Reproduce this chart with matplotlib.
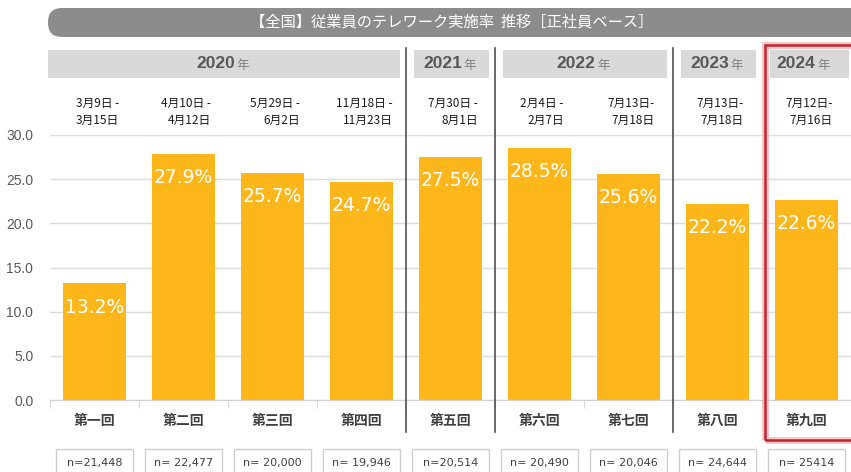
import matplotlib
matplotlib.use("Agg")
import matplotlib.pyplot as plt
import matplotlib.transforms as mtransforms
from matplotlib.patches import Rectangle, FancyBboxPatch

plt.rcParams['font.family'] = ['Noto Sans CJK JP', 'DejaVu Sans']

# data
rounds = ['第一回', '第二回', '第三回', '第四回', '第五回', '第六回', '第七回', '第八回', '第九回']
rates = [13.2, 27.9, 25.7, 24.7, 27.5, 28.5, 25.6, 22.2, 22.6]
periods = ['3月9日 -\n3月15日', '4月10日 -\n4月12日', '5月29日 -\n6月2日', '11月18日 -\n11月23日',
           '7月30日 -\n8月1日', '2月4日 -\n2月7日', '7月13日-\n7月18日', '7月13日-\n7月18日',
           '7月12日-\n7月16日']
samples = ['n=21,448', 'n= 22,477', 'n= 20,000', 'n= 19,946', 'n=20,514',
           'n= 20,490', 'n= 20,046', 'n= 24,644', 'n= 25414']
years = ['2020', '2021', '2022', '2023', '2024']
year_groups = [(0, 3), (4, 4), (5, 6), (7, 7), (8, 8)]
title = '【全国】従業員のテレワーク実施率  推移［正社員ベース］'

W, H = 851, 472
BAR = '#FDB71B'
TXT = '#404040'
XMIN, XMAX = -0.5, 8.375


def fy(py):
    """pixel row from top -> figure fraction"""
    return 1 - py / H


fig = plt.figure(figsize=(W / 100, H / 100), dpi=100)
ax = fig.add_axes([50 / W, fy(400), (W - 50) / W, 265 / H])

x = list(range(len(rounds)))
bars = ax.bar(x, rates, width=0.71, color=BAR, zorder=2)
for b, v in zip(bars, rates):
    ax.annotate(f'{v:.1f}%', (b.get_x() + b.get_width() / 2, v), xytext=(0, -17),
                textcoords='offset points', ha='center', va='center',
                color='white', fontsize=13.5, family=['DejaVu Sans'], zorder=3)

ax.set_xlim(XMIN, XMAX)
ax.set_ylim(0, 30)
ax.set_yticks(range(0, 31, 5))
ax.set_yticklabels([f'{t:.1f}' for t in range(0, 31, 5)], color='#595959', fontsize=10,
                   family=['Liberation Sans'])
ax.tick_params(axis='y', length=0, pad=12)
ax.grid(axis='y', color='#dcdcdc', lw=1, zorder=0)
ax.set_xticks(x)
ax.set_xticklabels(rounds, fontsize=10, fontweight='bold', color=TXT)
ax.tick_params(axis='x', length=0, pad=10)
ax.set_xticks([i - 0.5 for i in range(len(rounds) + 1)], minor=True)
ax.tick_params(axis='x', which='minor', length=6, color='#d0d0d0')
for s in ['top', 'right', 'left']:
    ax.spines[s].set_visible(False)
ax.spines['bottom'].set_color('#d0d0d0')

tr = mtransforms.blended_transform_factory(ax.transData, fig.transFigure)

# separators between years
seps = [g[1] + 0.5 for g in year_groups[:-1]]
for sx in seps[:-1]:
    ax.plot([sx, sx], [fy(48), fy(432)], transform=tr, color='#505050', lw=1.2,
            clip_on=False, zorder=4)

# year header boxes
bounds = [None] + seps + [None]
for i, ((a, b), yr) in enumerate(zip(year_groups, years)):
    left = -0.52 if bounds[i] is None else bounds[i] + 0.09
    right = XMAX + 0.1 if bounds[i + 1] is None else bounds[i + 1] - 0.07
    fig.patches.append(Rectangle((left, fy(78)), right - left, 28 / H, transform=tr,
                                 facecolor='#d9d9d9', edgecolor='none'))
    cx = (left + min(right, XMAX)) / 2
    fig.text(cx + 0.12, fy(64), yr, transform=tr, ha='right', va='center', fontsize=12.5,
             fontweight='bold', color='#595959', family=['Liberation Sans'])
    fig.text(cx + 0.14, fy(65), '年', transform=tr, ha='left', va='center', fontsize=9,
             color='#7f7f7f')

# survey periods
for xi, p in zip(x, periods):
    fig.text(xi + 0.03, fy(112), p, transform=tr, ha='center', va='center', fontsize=8.5,
             multialignment='right', color='#1a1a1a', linespacing=1.35)

# sample boxes
for xi, n in zip(x, samples):
    fig.patches.append(Rectangle((xi - 0.43, fy(476)), 0.86, 27 / H, transform=tr,
                                 facecolor='white', edgecolor='#cfcfcf', lw=1))
    fig.text(xi, fy(463), n, transform=tr, ha='center', va='center', fontsize=8,
             color=TXT, family=['DejaVu Sans'])

# highlight box for latest round
hl = seps[-1]
fig.patches.append(Rectangle((hl + 0.03, fy(440)), 2.0, 395 / H, transform=tr,
                             facecolor='none', edgecolor='#f4a0a4', lw=5, alpha=0.6, zorder=5))
fig.patches.append(Rectangle((hl + 0.03, fy(440)), 2.0, 395 / H, transform=tr,
                             facecolor='none', edgecolor='#c0242e', lw=1.8, zorder=6))

# title banner
fig.patches.append(FancyBboxPatch((48, H - 37), W + 20, 29,
                                  boxstyle='round,pad=0,rounding_size=14',
                                  transform=mtransforms.IdentityTransform(),
                                  facecolor='#8c8c8c', edgecolor='none'))
fig.text(452 / W, fy(22), title, ha='center', va='center', fontsize=11, color='white')

fig.savefig('out.png', dpi=100)
